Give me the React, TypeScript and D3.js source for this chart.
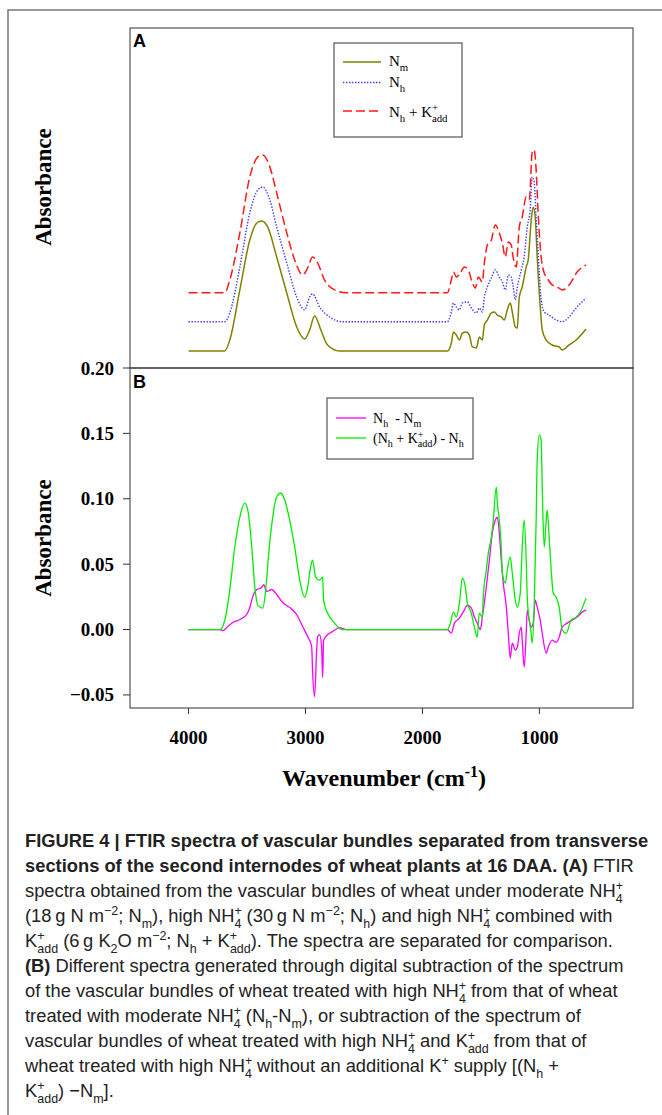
import { useLayoutEffect, useRef, useState } from 'react';
import * as d3 from 'd3';

// panel A spectra (absorbance, baseline removed), wavenumber in cm-1
const nmSpectrum: [number, number][] = [
  [4000, 0], [3690, 0], [3647, 0.0084], [3561, 0.0467], [3476, 0.0849], [3416, 0.0979], [3374, 0.0995],
  [3323, 0.0949], [3246, 0.0719], [3160, 0.0444], [3075, 0.0184], [3007, 0.0092], [2964, 0.0161],
  [2922, 0.0268], [2862, 0.0145], [2811, 0.0046], [2708, 0], [1787, 0], [1753, 0.0061], [1735, 0.0145],
  [1710, 0.0122], [1684, 0.0084], [1659, 0.0138], [1625, 0.0145], [1599, 0.0122], [1573, 0.0031],
  [1539, 0.0023], [1514, 0.0107], [1488, 0.0084], [1471, 0.0199], [1445, 0.0237], [1411, 0.0291],
  [1386, 0.0298], [1360, 0.0275], [1326, 0.026], [1300, 0.0237], [1275, 0.0314], [1249, 0.0367],
  [1232, 0.0298], [1206, 0.0184], [1189, 0.0176], [1172, 0.0413], [1147, 0.049], [1113, 0.0643],
  [1096, 0.0696], [1070, 0.1002], [1053, 0.1102], [1036, 0.1025], [1019, 0.0719], [993, 0.0337],
  [976, 0.0161], [942, 0.0084], [891, 0.0046], [831, 0.0031], [806, 0.0008], [746, 0.0046],
  [686, 0.0084], [601, 0.0168],
];

const nhSpectrum: [number, number][] = [
  [4000, 0], [3690, 0], [3647, 0.0067], [3561, 0.0418], [3476, 0.0832], [3407, 0.1008], [3365, 0.103],
  [3305, 0.0931], [3246, 0.0724], [3160, 0.0449], [3075, 0.0189], [3007, 0.009], [2964, 0.0189],
  [2939, 0.0212], [2879, 0.0112], [2794, 0.0036], [2683, 0], [1787, 0], [1753, 0.0074], [1735, 0.0143],
  [1710, 0.0112], [1684, 0.009], [1659, 0.0143], [1616, 0.0151], [1582, 0.0105], [1539, 0.0067],
  [1514, 0.0105], [1488, 0.0074], [1471, 0.0189], [1445, 0.0265], [1411, 0.0334], [1377, 0.0396],
  [1343, 0.0342], [1317, 0.0304], [1292, 0.0243], [1266, 0.0357], [1241, 0.0342], [1224, 0.0265],
  [1206, 0.0166], [1189, 0.0265], [1155, 0.0396], [1130, 0.0495], [1104, 0.0724], [1079, 0.0855],
  [1062, 0.1107], [1045, 0.1069], [1028, 0.0801], [1002, 0.0396], [985, 0.0166], [959, 0.0074],
  [917, 0.0051], [857, 0.0013], [806, 0], [746, 0.0036], [686, 0.0105], [601, 0.0181],
];

const nhkSpectrum: [number, number][] = [
  [4000, 0], [3690, 0], [3647, 0.0097], [3561, 0.0457], [3476, 0.0885], [3407, 0.1038], [3365, 0.1053],
  [3305, 0.0962], [3246, 0.0763], [3160, 0.0457], [3092, 0.025], [3024, 0.0135], [2981, 0.0189],
  [2939, 0.0273], [2896, 0.0227], [2837, 0.0097], [2751, 0.0021], [2649, 0], [1787, 0], [1753, 0.0097],
  [1735, 0.0158], [1710, 0.012], [1676, 0.0151], [1642, 0.0197], [1608, 0.0174], [1573, 0.0074],
  [1548, 0.0036], [1522, 0.012], [1488, 0.0082], [1471, 0.0227], [1445, 0.0365], [1411, 0.0403],
  [1377, 0.0518], [1343, 0.0457], [1317, 0.038], [1292, 0.0273], [1266, 0.0388], [1241, 0.0365],
  [1224, 0.0266], [1198, 0.0197], [1172, 0.0503], [1147, 0.0579], [1113, 0.0732], [1087, 0.0709],
  [1062, 0.1069], [1045, 0.1092], [1028, 0.0939], [1011, 0.061], [985, 0.0273], [959, 0.0151],
  [934, 0.0112], [891, 0.0059], [848, 0.0044], [806, 0.0021], [746, 0.0059], [678, 0.0158], [601, 0.0212],
];

// vertical separation of the panel A spectra
const offsetsA = [0.013, 0.0354, 0.0576];

// panel B difference spectra
const diffNhNm: [number, number][] = [
  [4000, 0], [3732, 0], [3706, -0.0008], [3664, 0.0023], [3621, 0.0054], [3561, 0.0077], [3502, 0.0115],
  [3476, 0.0168], [3450, 0.0252], [3416, 0.0306], [3374, 0.0321], [3357, 0.0344], [3331, 0.0291],
  [3289, 0.0306], [3246, 0.0268], [3195, 0.0207], [3135, 0.0168], [3075, 0.0115], [3024, 0.0023],
  [2981, -0.0054], [2947, -0.013], [2939, -0.0321], [2922, -0.0513], [2905, -0.0176], [2896, -0.0054],
  [2879, -0.0039], [2862, -0.013], [2853, -0.0367], [2845, -0.0084], [2811, -0.0039], [2768, -0.0015],
  [2708, 0.0015], [2649, 0], [1787, 0], [1753, -0.0028], [1727, 0.0049], [1684, 0.0087], [1642, 0.0148],
  [1616, 0.0187], [1582, 0.0164], [1556, 0.0095], [1531, 0.0049], [1505, 0], [1488, 0.0095],
  [1454, 0.0324], [1428, 0.0531], [1403, 0.0738], [1377, 0.0837], [1360, 0.086], [1343, 0.0738],
  [1326, 0.0531], [1309, 0.0355], [1283, 0.0171], [1266, -0.0028], [1249, -0.022], [1232, -0.0104],
  [1206, -0.0158], [1189, -0.0135], [1172, -0.0028], [1155, 0.0018], [1147, -0.0081], [1130, -0.0287],
  [1113, -0.0028], [1104, 0.0148], [1087, 0.0072], [1070, 0.0018], [1053, 0.0049], [1036, 0.0225],
  [1019, 0.0171], [993, 0.0072], [976, -0.0028], [942, -0.018], [925, -0.0135], [891, -0.0081],
  [857, -0.0097], [831, -0.0058], [806, 0.0018], [763, 0.0049], [720, 0.0072], [678, 0.0095],
  [635, 0.0133], [601, 0.0148],
];

const diffNhkNh: [number, number][] = [
  [4000, 0], [3732, 0], [3689, 0.0073], [3647, 0.0302], [3604, 0.0631], [3561, 0.086], [3519, 0.0967],
  [3493, 0.0914], [3459, 0.0631], [3433, 0.0325], [3408, 0.0187], [3365, 0.0164], [3340, 0.0302],
  [3314, 0.0585], [3280, 0.086], [3246, 0.1013], [3212, 0.1044], [3177, 0.099], [3135, 0.0837],
  [3092, 0.0631], [3049, 0.0378], [3007, 0.0248], [2981, 0.0325], [2956, 0.0478], [2939, 0.0531],
  [2913, 0.0401], [2879, 0.0378], [2853, 0.0401], [2845, 0.0225], [2811, 0.0126], [2751, 0.0049],
  [2691, 0], [1787, 0], [1761, 0.0049], [1735, 0.0133], [1710, 0.0095], [1684, 0.0202], [1659, 0.0393],
  [1633, 0.0324], [1616, 0.0202], [1582, 0.0125], [1556, 0.0018], [1531, -0.0058], [1514, 0.0125],
  [1488, 0.0095], [1480, 0.0248], [1454, 0.0454], [1437, 0.0584], [1411, 0.0707], [1394, 0.0837],
  [1369, 0.1089], [1360, 0.0967], [1343, 0.0837], [1326, 0.063], [1317, 0.0431], [1292, 0.0355],
  [1275, 0.0454], [1249, 0.0554], [1232, 0.0431], [1206, 0.0225], [1189, 0.0171], [1164, 0.0278],
  [1147, 0.063], [1130, 0.0837], [1113, 0.0531], [1104, 0.0248], [1087, 0.0072], [1070, -0.0028],
  [1062, -0.0104], [1045, 0.0171], [1028, 0.0837], [1019, 0.1296], [1002, 0.1487], [985, 0.1449],
  [976, 0.1089], [959, 0.063], [942, 0.0837], [934, 0.0914], [917, 0.0707], [899, 0.0454],
  [882, 0.0278], [857, 0.0248], [831, 0.0171], [806, 0], [771, -0.003], [729, 0.0072], [686, 0.0095],
  [643, 0.0148], [618, 0.0202], [601, 0.024],
];

const xTicks = [4000, 3000, 2000, 1000];
const yTicksB = [-0.05, 0, 0.05, 0.1, 0.15, 0.2];

type Seg = [string, string, string?];

// caption lines: n normal, b bold, sup, sub, st (stacked sup/sub)
const captionLines: Seg[][] = [
  [['b', 'FIGURE 4 | FTIR spectra of vascular bundles separated from transverse']],
  [['b', 'sections of the second internodes of wheat plants at 16 DAA. (A)'], ['n', ' FTIR']],
  [['n', 'spectra obtained from the vascular bundles of wheat under moderate NH'], ['st', '+', '4']],
  [['n', '(18\u2009g N m'], ['sup', '\u22122'], ['n', '; N'], ['sub', 'm'], ['n', '), high NH'], ['st', '+', '4'],
    ['n', ' (30\u2009g N m'], ['sup', '\u22122'], ['n', '; N'], ['sub', 'h'], ['n', ') and high NH'], ['st', '+', '4'],
    ['n', ' combined with']],
  [['n', 'K'], ['st', '+', 'add'], ['n', ' (6\u2009g K'], ['sub', '2'], ['n', 'O m'], ['sup', '\u22122'], ['n', '; N'],
    ['sub', 'h'], ['n', ' + K'], ['st', '+', 'add'], ['n', '). The spectra are separated for comparison.']],
  [['b', '(B)'], ['n', ' Different spectra generated through digital subtraction of the spectrum']],
  [['n', 'of the vascular bundles of wheat treated with high NH'], ['st', '+', '4'], ['n', ' from that of wheat']],
  [['n', 'treated with moderate NH'], ['st', '+', '4'], ['n', ' (N'], ['sub', 'h'], ['n', '-N'], ['sub', 'm'],
    ['n', '), or subtraction of the spectrum of']],
  [['n', 'vascular bundles of wheat treated with high NH'], ['st', '+', '4'], ['n', ' and K'], ['st', '+', 'add'],
    ['n', ' from that of']],
  [['n', 'wheat treated with high NH'], ['st', '+', '4'], ['n', ' without an additional K'], ['sup', '+'],
    ['n', ' supply [(N'], ['sub', 'h'], ['n', ' +']],
  [['n', 'K'], ['st', '+', 'add'], ['n', ') \u2212N'], ['sub', 'm'], ['n', '].']],
];

function rich(segs: Seg[], fs: number, smallRatio = 0.68) {
  const small = fs * smallRatio;
  const supDy = -0.38 * fs;
  const subDy = 0.3 * fs;
  let cur = 0;
  const out: any[] = [];
  segs.forEach((s, i) => {
    const [kind, a, b] = s;
    if (kind === 'n' || kind === 'b') {
      out.push(<tspan key={i} dy={-cur} fontSize={fs} fontWeight={kind === 'b' ? 'bold' : 'normal'}>{a}</tspan>);
      cur = 0;
    } else if (kind === 'sup') {
      out.push(<tspan key={i} dy={supDy - cur} fontSize={small}>{a}</tspan>);
      cur = supDy;
    } else if (kind === 'sub') {
      out.push(<tspan key={i} dy={subDy - cur} fontSize={small}>{a}</tspan>);
      cur = subDy;
    } else {
      const w = a.length * 0.58 * small;
      out.push(<tspan key={i + 'a'} dy={supDy - cur} fontSize={small}>{a}</tspan>);
      out.push(<tspan key={i + 'b'} dx={-w} dy={subDy - supDy} fontSize={small}>{b}</tspan>);
      cur = subDy;
    }
  });
  return out;
}

const App = () => {
  const firstLine = useRef<SVGTextElement>(null);
  const [capScale, setCapScale] = useState(0.85);

  useLayoutEffect(() => {
    if (firstLine.current) {
      const w = firstLine.current.getComputedTextLength();
      if (w > 0) setCapScale(623 / w);
    }
  }, []);

  const x = d3.scaleLinear().domain([4500, 200]).range([130, 633]);
  const yA = d3.scaleLinear().domain([0, 0.26]).range([368, 28]);
  const yB = d3.scaleLinear().domain([-0.06, 0.2]).range([708, 368]);

  const lineA = (off: number) =>
    d3.line<[number, number]>().x(d => x(d[0])).y(d => yA(d[1] + off)).curve(d3.curveMonotoneX);
  const lineB = d3.line<[number, number]>().x(d => x(d[0])).y(d => yB(d[1])).curve(d3.curveMonotoneX);

  const serif = '"Liberation Serif", "Times New Roman", serif';
  const sans = '"Liberation Sans", Arial, sans-serif';

  const seriesA = [
    { data: nmSpectrum, color: '#808000', dash: 'none', w: 1.5 },
    { data: nhSpectrum, color: '#3a3aff', dash: '1.4,1.6', w: 1.4 },
    { data: nhkSpectrum, color: '#ff1a1a', dash: '9,4', w: 1.5 },
  ];

  return (
    <svg width={662} height={1115} style={{ position: 'absolute', left: 0, top: 0, background: '#fff' }}>
      <rect width={662} height={1115} fill="#fff" />
      {/* outer figure frame */}
      <path d="M8,1115 V10 H662" fill="none" stroke="#7a7a7a" strokeWidth={1.5} />

      {/* panel A */}
      <rect x={130} y={28} width={503} height={340} fill="none" stroke="#333" strokeWidth={1} />
      <text x={133} y={47} fontFamily={sans} fontWeight="bold" fontSize={18}>A</text>
      {seriesA.map((s, i) => (
        <path key={i} d={lineA(offsetsA[i])(s.data) || ''} fill="none" stroke={s.color}
          strokeWidth={s.w} strokeDasharray={s.dash} />
      ))}
      <rect x={334} y={43} width={128} height={94} fill="#fff" stroke="#333" strokeWidth={1} />
      <line x1={343} x2={381} y1={62} y2={62} stroke="#808000" strokeWidth={1.5} />
      <line x1={343} x2={381} y1={82.5} y2={82.5} stroke="#3a3aff" strokeWidth={1.4} strokeDasharray="1.4,1.6" />
      <line x1={343} x2={381} y1={111} y2={111} stroke="#ff1a1a" strokeWidth={1.5} strokeDasharray="9,4" />
      <text x={389} y={66} fontFamily={serif} style={{ whiteSpace: 'pre' }}>{rich([['n', 'N'], ['sub', 'm']], 15, 0.72)}</text>
      <text x={389} y={87} fontFamily={serif} style={{ whiteSpace: 'pre' }}>{rich([['n', 'N'], ['sub', 'h']], 15, 0.72)}</text>
      <text x={389} y={117} fontFamily={serif} style={{ whiteSpace: 'pre' }}>
        {rich([['n', 'N'], ['sub', 'h'], ['n', ' + K'], ['st', '+', 'add']], 15, 0.72)}
      </text>
      <text transform="translate(51,187) rotate(-90)" textAnchor="middle" fontFamily={serif}
        fontWeight="bold" fontSize={23}>Absorbance</text>

      {/* panel B */}
      <rect x={130} y={368} width={503} height={340} fill="none" stroke="#333" strokeWidth={1} />
      <text x={133} y={388} fontFamily={sans} fontWeight="bold" fontSize={18}>B</text>
      <path d={lineB(diffNhNm) || ''} fill="none" stroke="#ff00ff" strokeWidth={1.3} />
      <path d={lineB(diffNhkNh) || ''} fill="none" stroke="#00ee00" strokeWidth={1.3} />
      <rect x={327} y={398} width={146} height={61} fill="#fff" stroke="#333" strokeWidth={1} />
      <line x1={336} x2={366} y1={418} y2={418} stroke="#ff00ff" strokeWidth={1.3} />
      <line x1={336} x2={366} y1={438} y2={438} stroke="#00ee00" strokeWidth={1.3} />
      <text x={373} y={423} fontFamily={serif} style={{ whiteSpace: 'pre' }}>
        {rich([['n', 'N'], ['sub', 'h'], ['n', '  - N'], ['sub', 'm']], 14, 0.72)}
      </text>
      <text x={373} y={443} fontFamily={serif} style={{ whiteSpace: 'pre' }}>
        {rich([['n', '(N'], ['sub', 'h'], ['n', ' + K'], ['st', '+', 'add'], ['n', ') - N'], ['sub', 'h']], 14, 0.72)}
      </text>
      {yTicksB.map(t => (
        <g key={t}>
          <line x1={123} x2={130} y1={yB(t)} y2={yB(t)} stroke="#333" strokeWidth={1} />
          <text x={114} y={yB(t) + 6.5} textAnchor="end" fontFamily={serif} fontWeight="bold" fontSize={19}>
            {d3.format('.2f')(t)}
          </text>
        </g>
      ))}
      {xTicks.map(t => (
        <g key={t}>
          <line x1={x(t)} x2={x(t)} y1={708} y2={714} stroke="#333" strokeWidth={1} />
          <text x={x(t)} y={744} textAnchor="middle" fontFamily={serif} fontWeight="bold" fontSize={19}>{t}</text>
        </g>
      ))}
      <text transform="translate(51,538) rotate(-90)" textAnchor="middle" fontFamily={serif}
        fontWeight="bold" fontSize={23}>Absorbance</text>
      <text x={384} y={786} textAnchor="middle" fontFamily={serif} fontWeight="bold" fontSize={24}>
        Wavenumber (cm<tspan dy={-9} fontSize={16}>-1</tspan><tspan dy={9}>)</tspan>
      </text>

      {/* caption */}
      {captionLines.map((segs, i) => (
        <text key={i} ref={i === 0 ? firstLine : undefined}
          transform={`translate(25,${847 + i * 25}) scale(${capScale},1)`}
          fontFamily={sans} fill="#222" style={{ whiteSpace: 'pre' }}>
          {rich(segs, 18.5)}
        </text>
      ))}
    </svg>
  );
};

export default App;
